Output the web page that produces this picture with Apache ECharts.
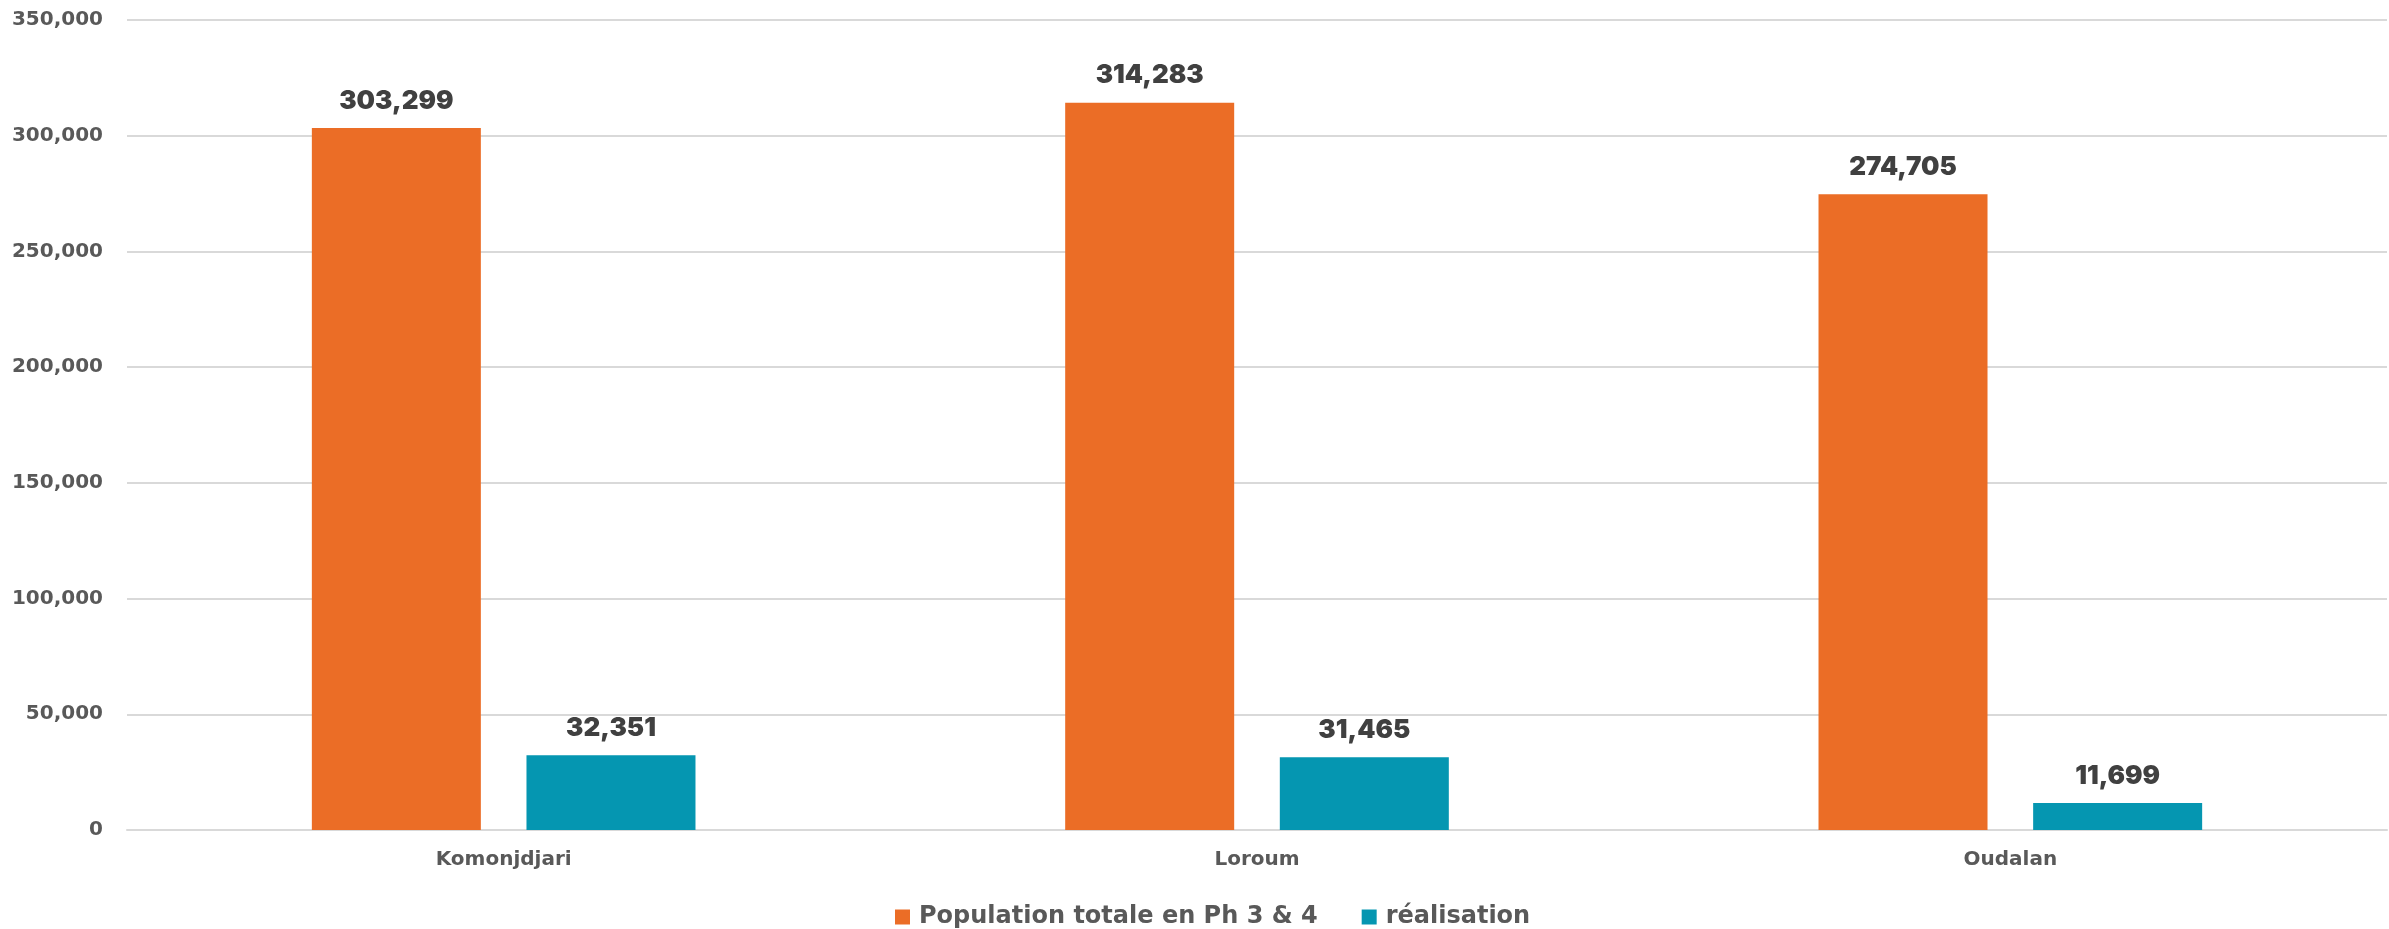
<!DOCTYPE html>
<html><head><meta charset="utf-8">
<script src="https://cdn.jsdelivr.net/npm/echarts@6/dist/echarts.min.js"></script>
<style>html,body{margin:0;padding:0;background:#fff}#c{width:2389px;height:929px}</style>
</head><body><div id="c"></div>
<script>
var categories = ['Komonjdjari', 'Loroum', 'Oudalan'];
var populationTotale = [303299, 314283, 274705];
var realisation = [32351, 31465, 11699];
var seriesNames = ['Population totale en Ph 3 & 4', 'réalisation'];

var chart = echarts.init(document.getElementById('c'));
var fmt = function (v) { return Number(v).toLocaleString('en-US'); };
var labelStyle = {
  show: true, position: 'top', distance: 14,
  color: '#404040', fontFamily: 'Inter', fontWeight: 900, fontSize: 26,
  formatter: function (p) { return fmt(p.value); }
};
chart.setOption({
  animation: false,
  backgroundColor: '#fff',
  grid: { left: 127, right: 2, top: 20, bottom: 99 },
  legend: {
    top: 900, left: 890, itemWidth: 15, itemHeight: 15, itemGap: 44,
    icon: 'rect',
    textStyle: { color: '#595959', fontFamily: 'DejaVu Sans', fontWeight: 'bold', fontSize: 24, padding: [0, 0, 0, 4] },
    data: seriesNames
  },
  xAxis: {
    type: 'category', data: categories,
    axisLine: { lineStyle: { color: '#d9d9d9', width: 2 } },
    axisTick: { show: false },
    axisLabel: { color: '#595959', fontFamily: 'DejaVu Sans', fontWeight: 'bold', fontSize: 20, margin: 20 }
  },
  yAxis: {
    type: 'value', min: 0, max: 350000, interval: 50000,
    axisLine: { show: false }, axisTick: { show: false },
    splitLine: { lineStyle: { color: '#d9d9d9', width: 2 } },
    axisLabel: { color: '#595959', fontFamily: 'DejaVu Sans', fontWeight: 'bold', fontSize: 20, margin: 24,
      formatter: function (v) { return fmt(v); } }
  },
  series: [
    { name: seriesNames[0], type: 'bar', data: populationTotale, barWidth: 169, barGap: '27%',
      itemStyle: { color: '#EB6D26' }, label: labelStyle },
    { name: seriesNames[1], type: 'bar', data: realisation, barWidth: 169,
      itemStyle: { color: '#0596B1' }, label: labelStyle }
  ]
});
</script></body></html>
